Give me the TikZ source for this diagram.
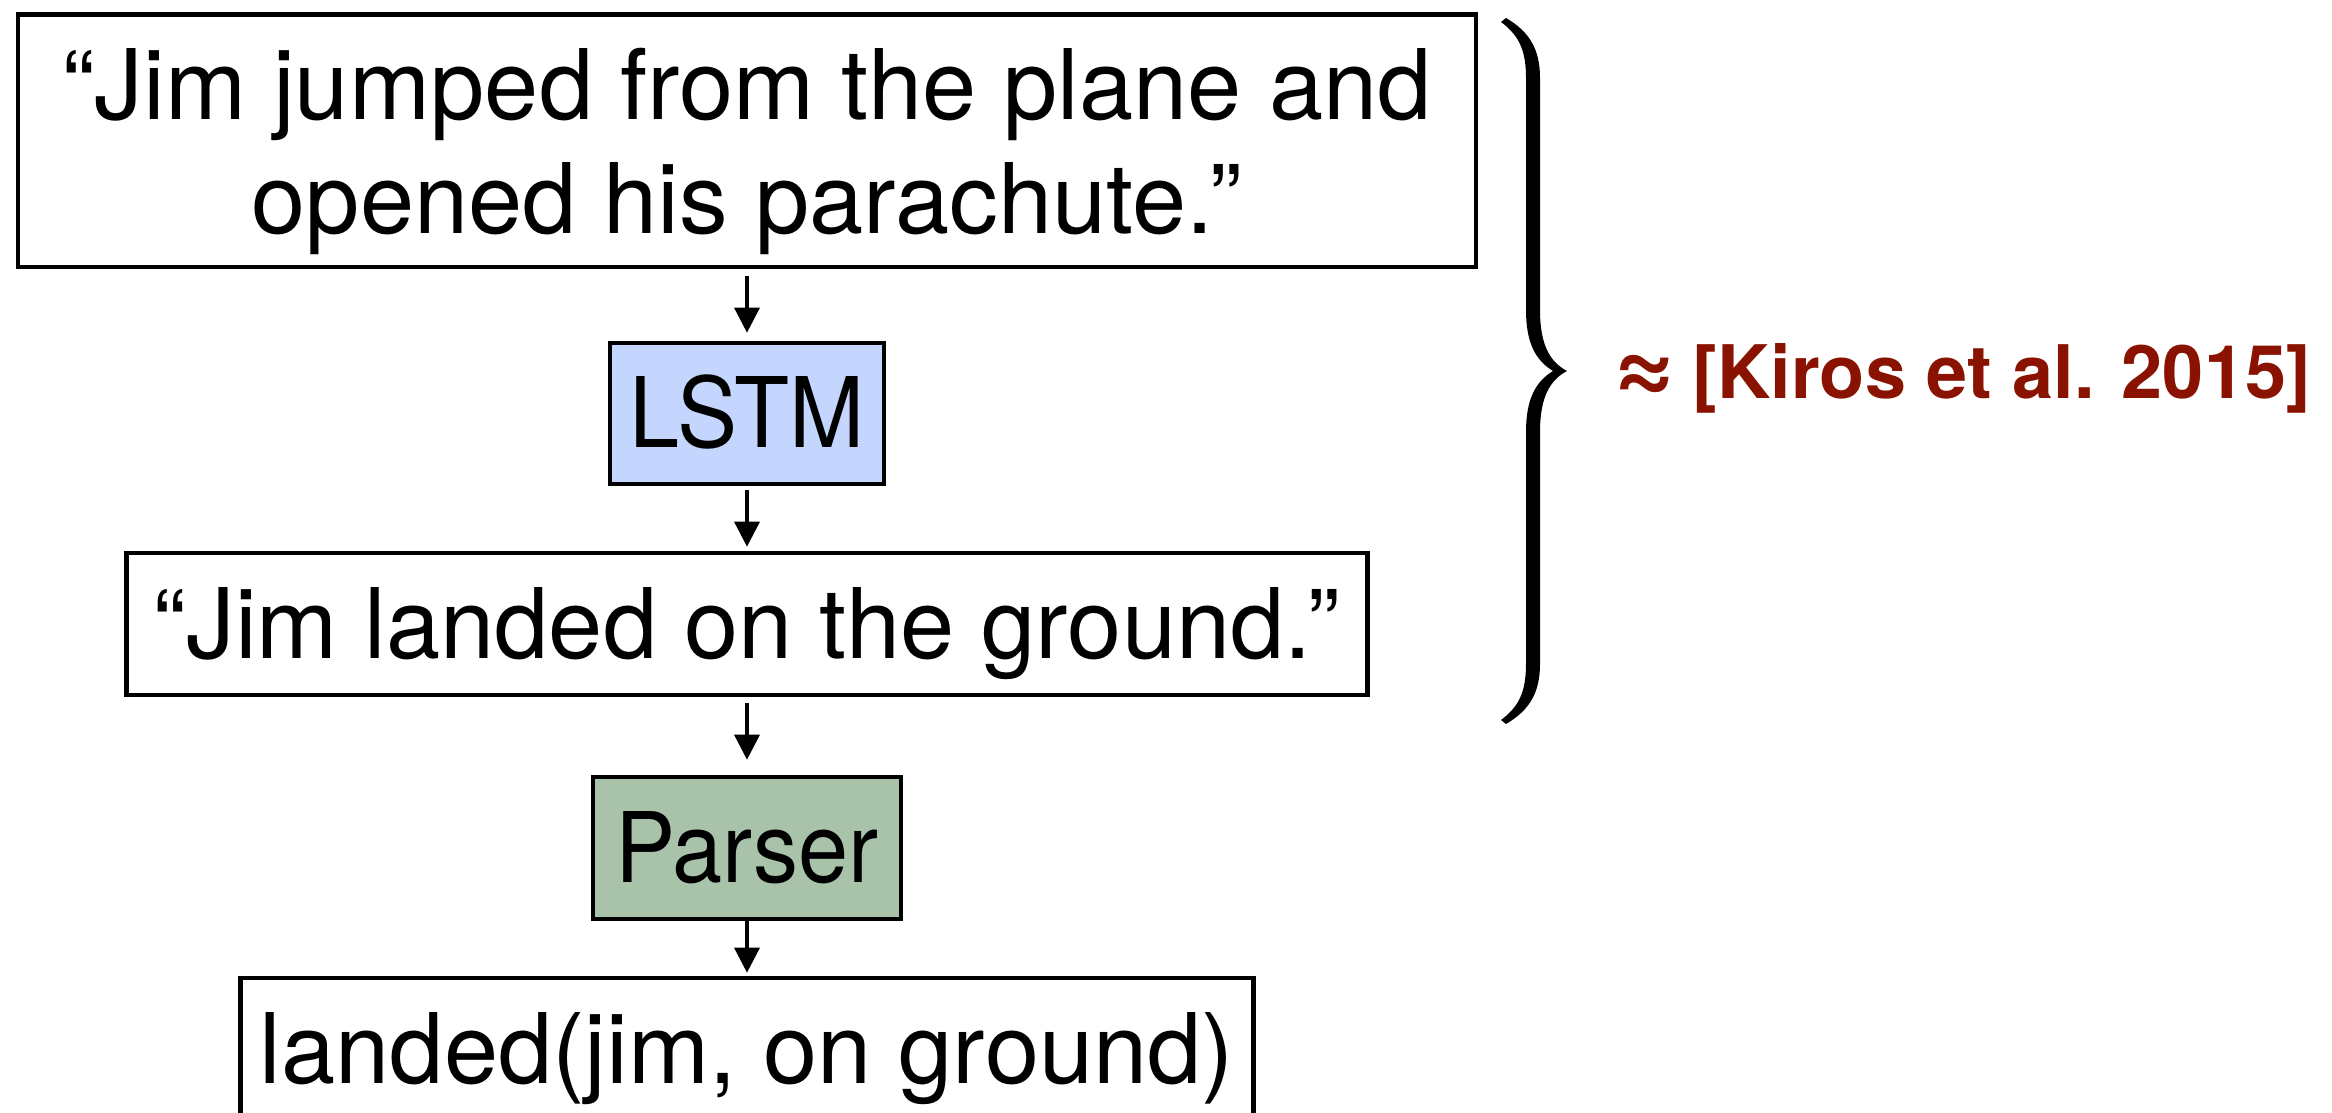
\documentclass[tikz,border=0pt]{standalone}
\usepackage{fontspec}
\setmainfont{TeX Gyre Heros}
\newfontfamily\narrowsans[FakeStretch=0.925]{TeX Gyre Heros}
\usetikzlibrary{arrows.meta}
\definecolor{lstmblue}{RGB}{196,214,253}
\definecolor{parsergreen}{RGB}{169,195,170}
\definecolor{citered}{RGB}{137,18,0}
\newcommand\boxfont{\fontsize{27.7pt}{32.15pt}\selectfont}
\newcommand\bigapprox{\makebox[8.2mm][l]{\raisebox{-0.4mm}{\fontsize{30pt}{30pt}\selectfont ≈}}}
\begin{document}
\begin{tikzpicture}[x=0.01cm,y=-0.01cm,
  box/.style={draw, line width=0.45mm, inner sep=0pt, text height=6.8mm,
    text depth=0mm, minimum height=14.2mm, font=\boxfont},
  flow/.style={-{Triangle[length=2.5mm,width=2.5mm]}, line width=0.35mm}]
  \useasboundingbox (0,0) rectangle (2332,1113);
  \clip (0,0) rectangle (2332,1113);

  % chain of boxes
  \node[box, minimum width=145.7mm, minimum height=25.25mm,
    text height=0pt, text depth=4.15mm] (input) at (747,140.75)
    {\parbox[t]{140mm}{\centering “Jim jumped from the plane and\\opened his parachute.”}};
  \node[box, fill=lstmblue, minimum width=27.4mm, minimum height=14.1mm]
    (lstm) at (747,413.5) {\narrowsans LSTM};
  \node[box, minimum width=124mm] (sentence) at (747,624)
    {“Jim landed on the ground.”};
  \node[box, fill=parsergreen, minimum width=30.8mm] (parser) at (747,848)
    {\narrowsans Parser};
  \node[box, minimum width=101.2mm] (logic) at (747,1049)
    {landed(jim, on ground)};

  % arrows
  \draw[flow, shorten <=0.7mm, shorten >=0.8mm] (input.south) -- (lstm.north);
  \draw[flow, shorten <=0.4mm, shorten >=0.4mm] (lstm.south) -- (sentence.north);
  \draw[flow, shorten <=0.6mm, shorten >=1.5mm] (sentence.south) -- (parser.north);
  \draw[flow, shorten >=0.3mm] (parser.south) -- (logic.north);

  % curly brace spanning the first three boxes
  \fill[black]
    (1506,18) .. controls (1530,32) and (1540,50) .. (1540,78)
    -- (1540,310) .. controls (1540,345) and (1550,362) .. (1567,371)
    .. controls (1550,380) and (1540,397) .. (1540,432)
    -- (1540,664) .. controls (1540,692) and (1530,710) .. (1506,724)
    -- (1501,720)
    .. controls (1520,706) and (1526,690) .. (1526,664)
    -- (1526,432) .. controls (1526,400) and (1535,382) .. (1553,371)
    .. controls (1535,360) and (1526,342) .. (1526,310)
    -- (1526,78) .. controls (1526,52) and (1520,36) .. (1501,22) -- cycle;

  \node[anchor=base west, inner sep=0pt, text=citered,
    font=\fontsize{21pt}{25pt}\selectfont\bfseries] (cite) at (1610,399)
    {\bigapprox[Kiros et al. 2015]};
\end{tikzpicture}
\end{document}
